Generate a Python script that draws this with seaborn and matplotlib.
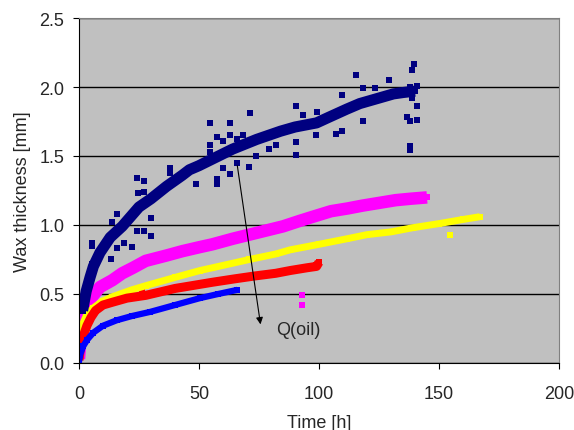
import matplotlib
matplotlib.use("Agg")
import matplotlib.pyplot as plt
import seaborn as sns

# wax thickness curves (time [h], thickness [mm])
navy_t = [1.5, 3, 4.6, 6, 8.75, 13, 18, 22.5, 25, 30, 36.5, 43, 46, 50, 57, 64, 74, 84, 90, 99, 104, 111.6, 117, 125, 131, 135, 140]
navy_w = [0.38, 0.52, 0.62, 0.70, 0.80, 0.91, 0.99, 1.08, 1.13, 1.19, 1.28, 1.36, 1.40, 1.43, 1.49, 1.55, 1.62, 1.68, 1.71, 1.74, 1.78, 1.84, 1.88, 1.92, 1.95, 1.96, 1.97]
navy_out_t = [54.6, 63, 71.2, 90.4, 57.4, 60, 54.6, 54.6, 63, 65.7, 68.5, 57.4, 57.4, 60.1, 63, 71, 66, 73.8,
              79.3, 82, 90.4, 90.4, 93.5, 99, 115.3, 139.6, 138.6, 137.9, 137.9, 118.2, 109.4, 107, 98.75, 137.9,
              140.7, 136.5, 140.7, 140.7, 137.9, 129.3, 118.5, 123.3, 109.4, 138.6, 24.3, 27.1, 24.7, 37.8, 37.8,
              48.6, 27.1, 13.6, 15.7, 24.3, 27.1, 29.9, 29.9, 5.3, 5.3, 5.3, 13.5, 16, 18.75, 22]
navy_out_w = [1.74, 1.74, 1.81, 1.86, 1.64, 1.61, 1.58, 1.53, 1.65, 1.62, 1.65, 1.33, 1.30, 1.41, 1.37, 1.42, 1.45, 1.50,
              1.55, 1.58, 1.51, 1.60, 1.80, 1.82, 2.09, 2.17, 2.12, 1.575, 1.54, 1.75, 1.68, 1.66, 1.65, 1.75,
              1.76, 1.78, 1.86, 2.01, 2.00, 2.05, 1.99, 1.99, 1.94, 1.92, 1.34, 1.32, 1.23, 1.41, 1.38,
              1.30, 1.24, 1.02, 1.08, 0.96, 0.96, 1.05, 0.92, 0.87, 0.845, 0.72, 0.75, 0.83, 0.87, 0.84]

magenta_t = [0, 0.5, 1.5, 3, 5, 8.75, 13.9, 18, 22.5, 27.8, 36.7, 43, 50.4, 55.6, 64, 71, 78, 85, 92, 97.5, 105, 112, 118, 125, 132, 138, 145]
magenta_w = [0.03, 0.15, 0.30, 0.40, 0.47, 0.55, 0.60, 0.65, 0.69, 0.74, 0.78, 0.81, 0.84, 0.86, 0.90, 0.93, 0.96, 0.99, 1.03, 1.06, 1.10, 1.12, 1.14, 1.16, 1.18, 1.19, 1.20]
magenta_out_t = [93, 93]
magenta_out_w = [0.49, 0.42]

yellow_t = [0.3, 1.2, 3, 6, 10, 13.9, 22, 27.8, 40, 50.4, 55.6, 71, 82, 88, 100, 111.6, 120, 130, 139, 150, 160, 167]
yellow_w = [0.08, 0.27, 0.34, 0.40, 0.45, 0.48, 0.53, 0.56, 0.62, 0.67, 0.69, 0.75, 0.79, 0.82, 0.86, 0.90, 0.93, 0.95, 0.98, 1.01, 1.04, 1.06]
yellow_out_t = [154.6]
yellow_out_w = [0.93]

red_t = [0, 0.4, 1.5, 3.3, 5, 6.9, 10, 13.9, 20, 27.8, 40, 55.6, 65, 73, 82, 88, 95, 99, 100]
red_w = [0.02, 0.08, 0.18, 0.27, 0.33, 0.38, 0.42, 0.44, 0.47, 0.49, 0.54, 0.585, 0.61, 0.63, 0.65, 0.67, 0.69, 0.70, 0.73]
red_out_t = [26.4]
red_out_w = [0.52]

blue_t = [0, 0.5, 1.7, 3.5, 6, 10, 15.8, 22, 29.6, 40, 50.4, 58, 66]
blue_w = [0.01, 0.06, 0.12, 0.17, 0.22, 0.27, 0.31, 0.34, 0.37, 0.42, 0.47, 0.50, 0.53]

sns.set_style("ticks")
plt.rcParams["font.family"] = ["Liberation Sans", "DejaVu Sans"]

fig = plt.figure(figsize=(5.74, 4.31), dpi=100)
ax = fig.add_axes([0.1376, 0.1555, 0.8363, 0.8004])
ax.set_facecolor("#C0C0C0")

for t, w, c, lw in [(magenta_t, magenta_w, "#FF00FF", 9),
                    (yellow_t, yellow_w, "#FFFF00", 5),
                    (red_t, red_w, "#FF0000", 6.5),
                    (blue_t, blue_w, "#0000FF", 4.5),
                    (navy_t, navy_w, "#000080", 8)]:
    sns.lineplot(x=t, y=w, color=c, lw=lw, marker="s", markersize=4, markeredgewidth=0,
                 solid_capstyle="butt", sort=False, estimator=None, ax=ax)

for t, w, c in [(magenta_out_t, magenta_out_w, "#FF00FF"),
                (yellow_out_t, yellow_out_w, "#FFFF00"),
                (red_out_t, red_out_w, "#FF0000"),
                (navy_out_t, navy_out_w, "#000080")]:
    sns.scatterplot(x=t, y=w, color=c, marker="s", s=14, linewidth=0, ax=ax)

ax.annotate("", xy=(75.8, 0.26), xytext=(65.8, 1.45),
            arrowprops=dict(arrowstyle="-|>", color="black", lw=0.8, mutation_scale=10))
ax.text(82, 0.245, "Q(oil)", fontsize=13, va="center", ha="left")

ax.set_xlim(0, 200)
ax.set_ylim(0, 2.5)
ax.set_xticks([0, 50, 100, 150, 200])
ax.set_yticks([0.0, 0.5, 1.0, 1.5, 2.0, 2.5])
ax.set_yticklabels(["0.0", "0.5", "1.0", "1.5", "2.0", "2.5"])
ax.yaxis.grid(True, color="black", lw=1)
ax.set_axisbelow(True)
ax.tick_params(labelsize=13, length=4.5, color="black")
ax.tick_params(axis="x", pad=11)
ax.tick_params(axis="y", pad=6)
for s in ["top", "right"]:
    ax.spines[s].set_color("#808080")
for s in ["left", "bottom"]:
    ax.spines[s].set_color("black")
ax.set_xlabel("Time [h]", fontsize=13, labelpad=9)
ax.set_ylabel("Wax thickness [mm]", fontsize=13, labelpad=6)

fig.savefig("out.png", dpi=100)
